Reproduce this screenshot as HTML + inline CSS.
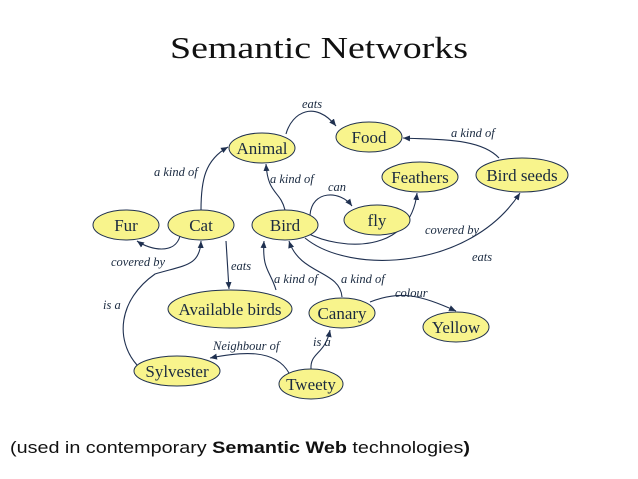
<!DOCTYPE html>
<html><head><meta charset="utf-8"><style>
html,body{margin:0;padding:0;background:#fff;width:638px;height:479px;overflow:hidden}
</style></head><body>
<svg width="638" height="479" viewBox="0 0 638 479" xmlns="http://www.w3.org/2000/svg">
<defs><marker id="a" markerWidth="8" markerHeight="8" refX="7" refY="4" orient="auto" markerUnits="userSpaceOnUse"><path d="M0,1 L7,4 L0,7 Z" fill="#1f3050"/></marker></defs>
<text x="319" y="58" text-anchor="middle" font-family="Liberation Serif, serif" font-size="31" fill="#111" textLength="298" lengthAdjust="spacingAndGlyphs">Semantic Networks</text>
<g fill="none" stroke="#1f3050" stroke-width="1.1" marker-end="url(#a)">
<path d="M286,134 C292,112 315,100 336,126"/>
<path d="M499,158 C480,138 440,140 403,138"/>
<path d="M201,210 C201,180 205,160 228,147"/>
<path d="M285,210 C280,190 268,195 266,164"/>
<path d="M310,215 C312,190 340,190 352,206"/>
<path d="M307,233 C340,250 410,255 417,193"/>
<path d="M305,238 C350,275 470,270 520,193"/>
<path d="M180,236 C175,255 150,250 137,241"/>
<path d="M226,241 L229,289"/>
<path d="M276,290 C270,270 262,270 264,241"/>
<path d="M342,297 C340,270 300,275 289,241"/>
<path d="M370,302 C400,290 420,295 456,311"/>
<path d="M311,369 C310,352 325,355 330,330"/>
<path d="M289,373 C275,348 240,352 210,358"/>
<path d="M137,365 C115,340 118,300 155,274 C185,265 200,266 201,241"/>
</g>
<g fill="#f8f48c" stroke="#1f3050" stroke-width="1">
<ellipse cx="262" cy="148" rx="33" ry="15"/>
<ellipse cx="369" cy="137" rx="33" ry="15"/>
<ellipse cx="420" cy="177" rx="38" ry="15"/>
<ellipse cx="522" cy="175" rx="46" ry="17"/>
<ellipse cx="377" cy="220" rx="33" ry="15"/>
<ellipse cx="126" cy="225" rx="33" ry="15"/>
<ellipse cx="201" cy="225" rx="33" ry="15"/>
<ellipse cx="285" cy="225" rx="33" ry="15"/>
<ellipse cx="230" cy="309" rx="62" ry="19"/>
<ellipse cx="342" cy="313" rx="33" ry="15"/>
<ellipse cx="456" cy="327" rx="33" ry="15"/>
<ellipse cx="177" cy="371" rx="43" ry="15"/>
<ellipse cx="311" cy="384" rx="32" ry="15"/>
</g>
<g font-family="Liberation Serif, serif" font-size="17" fill="#1a2a40" text-anchor="middle">
<text x="262" y="154">Animal</text>
<text x="369" y="143">Food</text>
<text x="420" y="183">Feathers</text>
<text x="522" y="181">Bird seeds</text>
<text x="377" y="226">fly</text>
<text x="126" y="231">Fur</text>
<text x="201" y="231">Cat</text>
<text x="285" y="231">Bird</text>
<text x="230" y="315">Available birds</text>
<text x="342" y="319">Canary</text>
<text x="456" y="333">Yellow</text>
<text x="177" y="377">Sylvester</text>
<text x="311" y="390">Tweety</text>
</g>
<g font-family="Liberation Serif, serif" font-size="12.5" font-style="italic" fill="#1a2a40">
<text x="302" y="108">eats</text>
<text x="451" y="137">a kind of</text>
<text x="154" y="176">a kind of</text>
<text x="270" y="183">a kind of</text>
<text x="328" y="191">can</text>
<text x="425" y="234">covered by</text>
<text x="472" y="261">eats</text>
<text x="111" y="266">covered by</text>
<text x="231" y="270">eats</text>
<text x="274" y="283">a kind of</text>
<text x="341" y="283">a kind of</text>
<text x="395" y="297">colour</text>
<text x="103" y="309">is a</text>
<text x="313" y="346">is a</text>
<text x="213" y="350">Neighbour of</text>
</g>
<text x="10" y="453" font-family="Liberation Sans, sans-serif" font-size="17" fill="#111" textLength="460" lengthAdjust="spacingAndGlyphs">(used in contemporary <tspan font-weight="bold">Semantic Web</tspan> technologies<tspan font-weight="bold">)</tspan></text>
</svg>
</body></html>
